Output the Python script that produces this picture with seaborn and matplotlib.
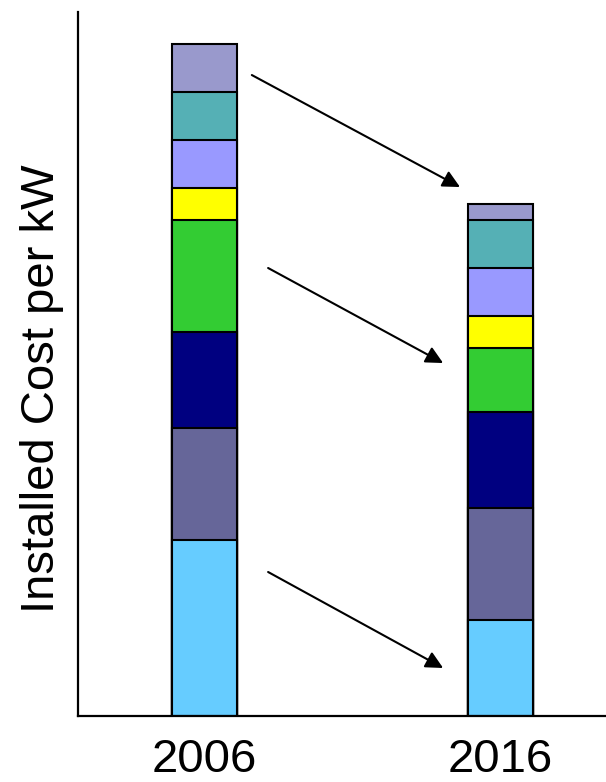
import matplotlib
matplotlib.use("Agg")
import matplotlib.pyplot as plt
import numpy as np
import pandas as pd
import seaborn as sns

# Cost components per kW, listed from the bottom of each stack to the top
years = ["2006", "2016"]
components = ["c1", "c2", "c3", "c4", "c5", "c6", "c7", "c8"]
cost_2006 = [1100, 700, 600, 700, 200, 300, 300, 300]
cost_2016 = [600, 700, 600, 400, 200, 300, 300, 100]
colors = ["#66CCFF", "#666699", "#000080", "#33CC33",
          "#FFFF00", "#9999FF", "#55B0B5", "#9999CC"]

# Long-form table: each segment is drawn as a bar from 0 up to its cumulative top,
# the tallest first so lower segments paint over it.
rows = []
for year, vals in zip(years, [cost_2006, cost_2016]):
    tops = np.cumsum(vals)
    for comp, top in zip(components, tops):
        rows.append({"year": year, "component": comp, "top": top})
df = pd.DataFrame(rows)

sns.set_theme(style="white")
plt.rcParams["font.family"] = ["Liberation Sans", "DejaVu Sans"]
plt.rcParams["text.color"] = "black"
plt.rcParams["axes.labelcolor"] = "black"
plt.rcParams["xtick.color"] = "black"
plt.rcParams["ytick.color"] = "black"

fig = plt.figure(figsize=(6.06, 7.82), dpi=100)
ax = fig.add_axes([78 / 606, 66 / 782, 528 / 606, 704 / 782])

sns.barplot(data=df, x="year", y="top", hue="component",
            order=years, hue_order=components[::-1],
            palette=dict(zip(components, colors)),
            dodge=False, width=0.22, saturation=1, errorbar=None,
            edgecolor="black", linewidth=1.5, legend=False, ax=ax)

ax.set_xlim(-0.427, 1.356)
ax.set_ylim(0, 4400)
ax.set_yticks([])
ax.set_xlabel("")
ax.set_ylabel("Installed Cost per kW", fontsize=34, labelpad=10, y=0.465,
              color="black")
ax.tick_params(axis="x", length=0, pad=16, labelsize=34, labelcolor="black")

for side in ["top", "right"]:
    ax.spines[side].set_visible(False)
for side in ["left", "bottom"]:
    ax.spines[side].set_color("black")
    ax.spines[side].set_linewidth(1.6)

# Arrows marking the drop from 2006 to 2016
arrows = [((0.16, 4006), (0.863, 3306)),
          ((0.215, 2800), (0.806, 2206)),
          ((0.215, 900), (0.806, 300))]
for start, end in arrows:
    ax.annotate("", xy=end, xytext=start,
                arrowprops=dict(arrowstyle="-|>,head_length=0.4,head_width=0.2",
                                color="black", lw=1.5, mutation_scale=26,
                                shrinkA=0, shrinkB=0))

fig.savefig("out.png", dpi=100)
